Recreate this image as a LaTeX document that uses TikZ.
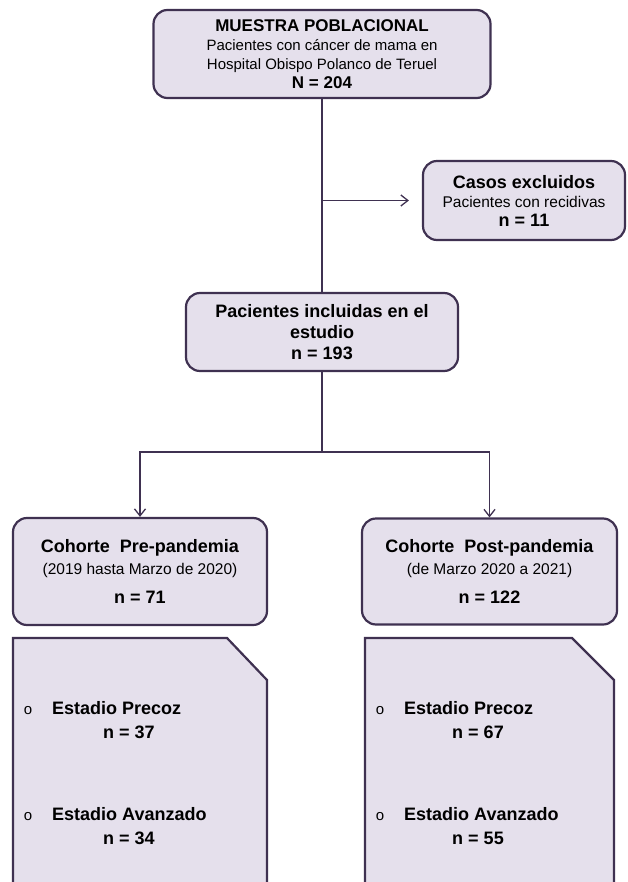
\documentclass[tikz,border=0pt]{standalone}
\usepackage{fontspec}
\setmainfont{Liberation Sans}
\usetikzlibrary{arrows.meta}

\definecolor{boxfill}{HTML}{E5E0EC}
\definecolor{boxline}{HTML}{3F3151}
\newcommand{\boxhead}{\fontsize{18}{21}\selectfont\bfseries}
\newcommand{\samplehead}{\fontsize{17}{20}\selectfont\bfseries}

\begin{document}
\begin{tikzpicture}[
  x=1pt,y=-1pt,
  font=\fontsize{15.5}{19}\selectfont,
  box/.style={draw=boxline,line width=2.2pt,fill=boxfill,rounded corners=14pt,inner sep=0pt,align=center},
  stagebox/.style={draw=boxline,line width=2.2pt,fill=boxfill},
  link/.style={draw=boxline,line width=1.3pt},
  arrow/.style={link,-{Straight Barb[length=7pt,width=11pt]}},
  bullet/.style={font=\fontsize{15}{15}\selectfont,inner sep=0pt},
  stage/.style={font=\boxhead,inner sep=0pt},
]
\useasboundingbox (0,0) rectangle (627,882);
\clip (0,0) rectangle (627,882);

\node[box,font=\fontsize{15}{19}\selectfont,minimum width=337pt,minimum height=88pt] (sample) at (322,54)
  {{\samplehead MUESTRA POBLACIONAL}\\Pacientes con cáncer de mama en\\Hospital Obispo Polanco de Teruel\\{\samplehead N = 204}};
\node[box,minimum width=202pt,minimum height=79pt] (excluded) at (524,200.5)
  {{\boxhead Casos excluidos}\\Pacientes con recidivas\\{\boxhead n = 11}};
\node[box,font=\boxhead,minimum width=272pt,minimum height=78pt] (included) at (322,332)
  {Pacientes incluidas en el\\estudio\\n = 193};
\node[box,minimum width=254pt,minimum height=107pt] (prepan) at (140,571.5)
  {{\boxhead Cohorte\ \ Pre-pandemia}\\[3pt](2019 hasta Marzo de 2020)\\[10pt]{\boxhead n = 71}};
\node[box,minimum width=255pt,minimum height=106pt] (postpan) at (489.5,571.5)
  {{\boxhead Cohorte\ \ Post-pandemia}\\[3pt](de Marzo 2020 a 2021)\\[10pt]{\boxhead n = 122}};

\draw[stagebox] (13,895) -- (13,638) -- (227,638) -- (267,680) -- (267,895) -- cycle;
\draw[stagebox] (365,895) -- (365,638) -- (572,638) -- (614,680) -- (614,895) -- cycle;

\node[bullet] (dotPL) at (28,711) {o};
\node[stage,anchor=west] (precozL) at (52,708) {Estadio Precoz};
\node[stage] (nPrecozL) at (129,732) {n = 37};
\node[bullet] (dotAL) at (28,817) {o};
\node[stage,anchor=west] (avanzL) at (52,814) {Estadio Avanzado};
\node[stage] (nAvanzL) at (129,838) {n = 34};

\node[bullet] (dotPR) at (380,711) {o};
\node[stage,anchor=west] (precozR) at (404,708) {Estadio Precoz};
\node[stage] (nPrecozR) at (478,732) {n = 67};
\node[bullet] (dotAR) at (380,817) {o};
\node[stage,anchor=west] (avanzR) at (404,814) {Estadio Avanzado};
\node[stage] (nAvanzR) at (478,838) {n = 55};

\coordinate (branch) at (sample.south |- excluded.west);
\coordinate (fork) at (322,452);

\draw[link] (sample.south) -- (included.north);
\draw[arrow] (branch) -- ([xshift=-13pt]excluded.west);
\draw[link] (included.south) -- (fork);
\draw[arrow] (fork) -| (prepan.north);
\draw[arrow] (fork) -| (postpan.north);

\end{tikzpicture}
\end{document}
